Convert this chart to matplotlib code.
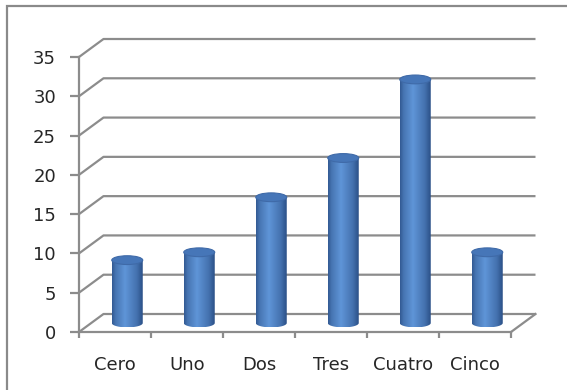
import numpy as np
import matplotlib.pyplot as plt
from matplotlib.patches import Ellipse, Rectangle, Polygon

# datos
categorias = ['Cero', 'Uno', 'Dos', 'Tres', 'Cuatro', 'Cinco']
valores = [8, 9, 16, 21, 31, 9]
marcas_y = [0, 5, 10, 15, 20, 25, 30, 35]

plt.rcParams['font.family'] = ['DejaVu Sans']

W, H = 567, 390
fig = plt.figure(figsize=(W / 100, H / 100), dpi=100)
fig.patch.set_facecolor('white')

# marco exterior
fig.add_artist(Rectangle((7 / W, -0.1), 1.2, (H - 6) / H + 0.1,
                         transform=fig.transFigure, fill=False,
                         ec='#8a8a8a', lw=1.6))

# plano frontal del grafico
x0, x1, y0, y1 = 79, 511, 332, 57
ax = fig.add_axes([x0 / W, (H - y0) / H, (x1 - x0) / W, (y0 - y1) / H])
n = len(categorias)
ax.set_xlim(0, n)
ax.set_ylim(0, 35)
ax.patch.set_alpha(0)

# desplazamiento de profundidad (en unidades de datos)
px_x = (x1 - x0) / n
px_y = (y0 - y1) / 35
ox = 24.5 / px_x
oy = 18 / px_y

gris = '#8c8c8c'
for v in marcas_y:
    ax.plot([0, ox, n + ox], [v, v + oy, v + oy], color=gris, lw=1.6,
            clip_on=False, zorder=1, solid_capstyle='butt')
ax.plot([n, n + ox], [0, oy], color=gris, lw=1.6, clip_on=False, zorder=1)

# ejes
for s in ['top', 'right']:
    ax.spines[s].set_visible(False)
for s in ['left', 'bottom']:
    ax.spines[s].set_color(gris)
    ax.spines[s].set_linewidth(1.6)
ax.set_yticks(marcas_y)
ax.tick_params(axis='y', direction='out', length=6.5, width=1.6, color=gris,
               pad=10, labelsize=13, labelcolor='#262626')
ax.set_xticks(np.arange(n + 1))
ax.set_xticklabels([])
ax.tick_params(axis='x', which='major', direction='out', length=4.5,
               width=1.6, color=gris)
ax.set_xticks(np.arange(n) + 0.5, minor=True)
ax.set_xticklabels(categorias, minor=True)
ax.tick_params(axis='x', which='minor', length=0, pad=17, labelsize=13,
               labelcolor='#262626')

# cilindros
ancho = 31 / px_x
b = 4.4 / px_y
grad = np.linspace(0, 1, 200)
perfil = np.interp(grad, [0, 0.12, 0.42, 0.8, 1], [0.15, 0.55, 1.0, 0.5, 0.0])
oscuro = np.array([0x2a, 0x4f, 0x86]) / 255
claro = np.array([0x5f, 0x95, 0xd8]) / 255
img = (oscuro[None, :] + perfil[:, None] * (claro - oscuro)[None, :])[None, :, :]

for i, v in enumerate(valores):
    cx = i + 0.5 + 0.5 * ox
    yb = 0.5 * oy
    yt = v + 0.5 * oy
    t = np.linspace(0, np.pi, 60)
    arco = np.column_stack([cx + ancho / 2 * np.cos(t), yb - b * np.sin(t)])
    pts = np.vstack([arco, [[cx - ancho / 2, yt], [cx + ancho / 2, yt]]])
    cuerpo = Polygon(pts, closed=True, fc='none', ec='none', zorder=3)
    ax.add_patch(cuerpo)
    im = ax.imshow(img, extent=[cx - ancho / 2, cx + ancho / 2, yb - b, yt],
                   aspect='auto', zorder=3, interpolation='bilinear')
    im.set_clip_path(cuerpo)
    ax.add_patch(Ellipse((cx, yt), ancho, 2 * b, fc='#4676b8',
                         ec='#3f6aa8', lw=0.8, zorder=4))

ax.set_xlim(0, n)
ax.set_ylim(0, 35)

fig.savefig('out.png', dpi=100)
